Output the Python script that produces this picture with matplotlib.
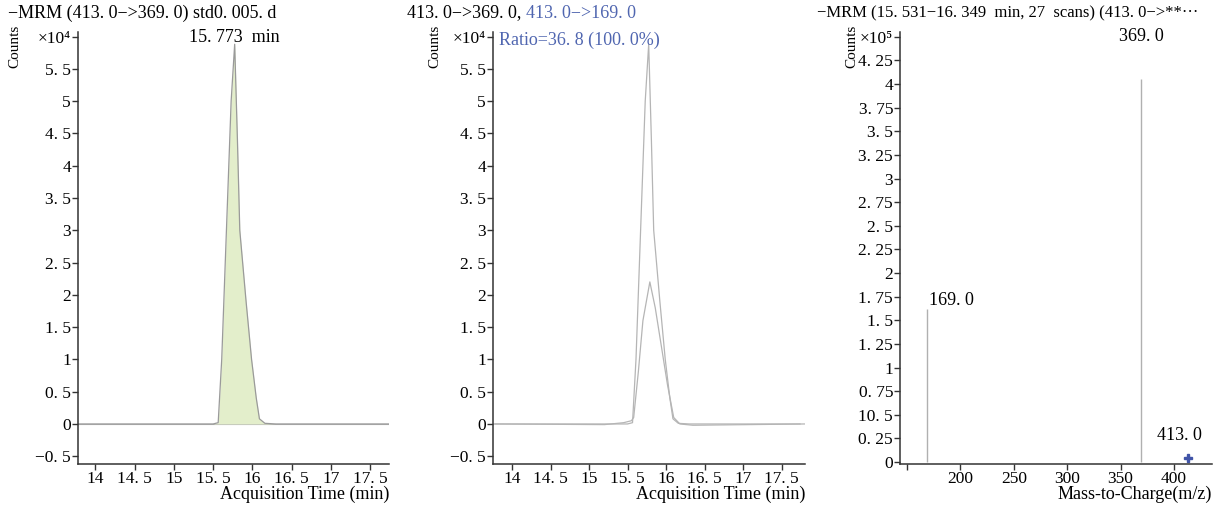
import matplotlib
matplotlib.use("Agg")
import matplotlib.pyplot as plt

plt.rcParams['font.family'] = ['Liberation Serif', 'DejaVu Serif']

# chromatogram, quantifier 413 -> 369 (x10^4 counts)
time_369 = [13.78, 15.50, 15.565, 15.61, 15.67, 15.73, 15.775, 15.81, 15.84, 15.92, 15.99, 16.05, 16.09, 16.16, 16.30, 17.74]
counts_369 = [0.0, 0.0, 0.02, 1.0, 3.0, 5.0, 5.88, 4.4, 3.0, 1.9, 1.0, 0.4, 0.08, 0.01, 0.0, 0.0]

# qualifier 413 -> 169 (x10^4 counts)
time_169 = [13.75, 15.20, 15.45, 15.55, 15.58, 15.64, 15.70, 15.79, 15.86, 15.94, 16.02, 16.10, 16.18, 16.35, 17.80]
counts_169 = [0.0, -0.01, 0.02, 0.05, 0.10, 0.8, 1.6, 2.2, 1.8, 1.2, 0.6, 0.1, 0.0, -0.02, 0.0]

# MS spectrum (x10^5 counts)
mz = [169.0, 369.0, 413.0]
intensity = [1.62, 4.05, 0.04]

rt_ticks = [14, 14.5, 15, 15.5, 16, 16.5, 17, 17.5]
rt_labels = ["14", "14. 5", "15", "15. 5", "16", "16. 5", "17", "17. 5"]
cnt_ticks = [-0.5, 0, 0.5, 1, 1.5, 2, 2.5, 3, 3.5, 4, 4.5, 5, 5.5, 6]
cnt_labels = ["−0. 5", "0", "0. 5", "1", "1. 5", "2", "2. 5", "3", "3. 5", "4", "4. 5", "5", "5. 5", "×10⁴"]
mz_ticks = [150, 200, 250, 300, 350, 400]
mz_labels = ["", "200", "250", "300", "350", "400"]
ms_ticks = [0, 0.25, 0.5, 0.75, 1, 1.25, 1.5, 1.75, 2, 2.25, 2.5, 2.75, 3, 3.25, 3.5, 3.75, 4, 4.25, 4.5]
ms_labels = ["0", "0. 25", "10. 5", "0. 75", "1", "1. 25", "1. 5", "1. 75", "2", "2. 25", "2. 5", "2. 75",
             "3", "3. 25", "3. 5", "3. 75", "4", "4. 25", "×10⁵"]

W, H = 1221, 509
fig = plt.figure(figsize=(W / 100, H / 100), dpi=100)
blue = '#5066b0'
fs = 12.5


def box(x0, x1, y0, y1):
    return [x0 / W, 1 - y1 / H, (x1 - x0) / W, (y1 - y0) / H]


def style(ax):
    for s in ['top', 'right']:
        ax.spines[s].set_visible(False)
    for s in ['left', 'bottom']:
        ax.spines[s].set_color('#333333')
        ax.spines[s].set_linewidth(1.1)
    ax.tick_params(direction='out', length=4, width=1, color='#333333', labelsize=fs, pad=1)


ax1 = fig.add_axes(box(78, 389, 32, 464))
ax2 = fig.add_axes(box(493, 805, 32, 464))
ax3 = fig.add_axes(box(900, 1212, 32, 464))

# panel 1
ax1.fill_between(time_369, counts_369, 0, color='#e3eecb', lw=0)
ax1.plot(time_369, counts_369, color='#9a9a9a', lw=0.9)
ax1.axhline(0, color='#b0b0b0', lw=0.8, zorder=0)
ax1.set_xlim(13.78, 17.74)
ax1.set_ylim(-0.62, 6.07)
ax1.set_xticks(rt_ticks, rt_labels)
ax1.set_yticks(cnt_ticks, cnt_labels)
ax1.annotate("15. 773  min", (15.773, max(counts_369)), xytext=(0, -1), textcoords='offset points',
             ha='center', va='bottom', fontsize=13)
style(ax1)

# panel 2
ax2.plot(time_369, counts_369, color='#b5b5b5', lw=0.9)
ax2.plot(time_169, counts_169, color='#b5b5b5', lw=0.9)
ax2.set_xlim(13.753, 17.805)
ax2.set_ylim(-0.62, 6.07)
ax2.set_xticks(rt_ticks, rt_labels)
ax2.set_yticks(cnt_ticks, cnt_labels)
ax2.text(0.02, 1.0, "Ratio=36. 8 (100. 0%)", transform=ax2.transAxes, color=blue, fontsize=13,
         va='top', ha='left')
style(ax2)

# panel 3
ax3.vlines(mz, 0, intensity, color='#b0b0b0', lw=1)
ax3.plot(mz[2], intensity[2], marker='P', color='#4054a8', ms=6, ls='none')
ax3.set_xlim(143.4, 435.6)
ax3.set_ylim(-0.02, 4.55)
ax3.set_xticks(mz_ticks, mz_labels)
ax3.set_yticks(ms_ticks, ms_labels)
ax3.annotate("169. 0", (mz[0], intensity[0]), xytext=(1, 0), textcoords='offset points',
             ha='left', va='bottom', fontsize=13)
ax3.annotate("369. 0", (mz[1], 4.5), ha='center', va='center', fontsize=13)
ax3.annotate("413. 0", (mz[2], intensity[2]), xytext=(-6, 10), textcoords='offset points',
             ha='center', va='bottom', fontsize=13)
style(ax3)

for ax in (ax1, ax2):
    ax.set_xlabel("Acquisition Time (min)", fontsize=13, labelpad=-1, loc='right')
ax3.set_xlabel("Mass-to-Charge(m/z)", fontsize=13, labelpad=-1, loc='right')

# y labels and titles
for x in (15, 435, 852):
    fig.text(x / W, 1 - 46 / H, "Counts", rotation=90, ha='center', va='center', fontsize=11)
fig.text(8 / W, 1 - 13 / H, "−MRM (413. 0−>369. 0) std0. 005. d", ha='left', va='center', fontsize=13)
t_black = fig.text(407 / W, 1 - 13 / H, "413. 0−>369. 0, ", ha='left', va='center', fontsize=13)
ax2.annotate("413. 0−>169. 0", xy=(1, 0), xycoords=t_black, ha='left', va='bottom',
             fontsize=13, color=blue, annotation_clip=False)
fig.text(817 / W, 1 - 13 / H, "−MRM (15. 531−16. 349  min, 27  scans) (413. 0−>**···", ha='left',
         va='center', fontsize=12)

fig.savefig("out.png", dpi=100)
